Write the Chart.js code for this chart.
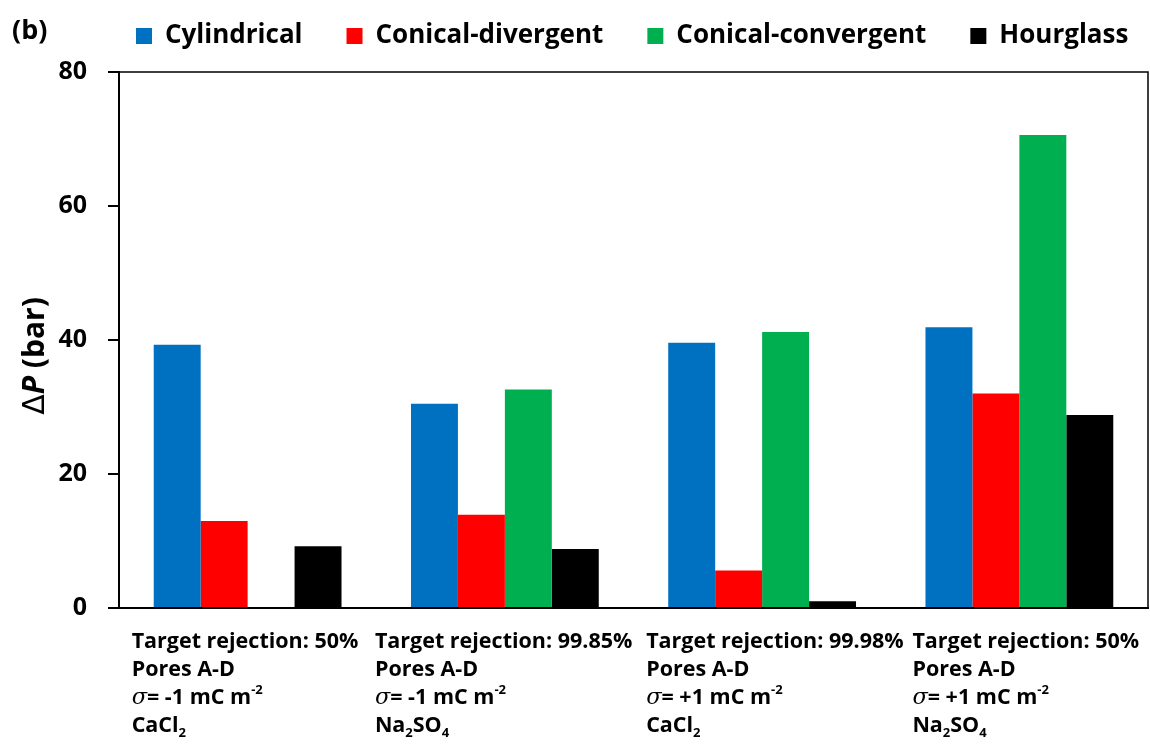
<!DOCTYPE html>
<html>
<head>
<meta charset="utf-8">
<script src="https://cdn.jsdelivr.net/npm/chart.js@4/dist/chart.umd.min.js"></script>
<style>
  html, body { margin: 0; padding: 0; background: #fff; }
  #wrap { width: 1150px; height: 749px; position: relative; }
</style>
</head>
<body>
<div id="wrap"><canvas id="c" width="1150" height="749"></canvas></div>
<script>
// ---- data ----
const categories = ["Group 1", "Group 2", "Group 3", "Group 4"];
const seriesNames = ["Cylindrical", "Conical-divergent", "Conical-convergent", "Hourglass"];
const cylindrical = [39.3, 30.5, 39.6, 41.9];
const conicalDivergent = [13.0, 13.9, 5.6, 32.0];
const conicalConvergent = [null, 32.6, 41.2, 70.6];
const hourglass = [9.2, 8.8, 1.0, 28.8];
const yTicks = [0, 20, 40, 60, 80];
// x tick labels (multi-line; _{..} subscript, ^{..} superscript)
const xLabelLines = [
  ["Target rejection: 50%", "Pores A-D", "σ= -1 mC m^{-2}", "CaCl_{2}"],
  ["Target rejection: 99.85%", "Pores A-D", "σ= -1 mC m^{-2}", "Na_{2}SO_{4}"],
  ["Target rejection: 99.98%", "Pores A-D", "σ= +1 mC m^{-2}", "CaCl_{2}"],
  ["Target rejection: 50%", "Pores A-D", "σ= +1 mC m^{-2}", "Na_{2}SO_{4}"]
];
const panelLabel = "(b)";

// ---- styles ----
const colors = ["#0070C0", "#FF0000", "#00B050", "#000000"];
const FONT = "'Open Sans', Lato, sans-serif";
const LEGEND_PAD = 44;
// horizontal placement of each label block's left edge relative to its category centre (px)
const xLabelNudge = [-116, -130, -116, -107];

function parseRich(str) {
  const segs = [];
  let i = 0, buf = "";
  while (i < str.length) {
    if ((str[i] === "_" || str[i] === "^") && str[i + 1] === "{") {
      if (buf) { segs.push({ t: buf, k: "n" }); buf = ""; }
      const end = str.indexOf("}", i);
      segs.push({ t: str.slice(i + 2, end), k: str[i] === "_" ? "sub" : "sup" });
      i = end + 1;
    } else if (str[i] === "σ") {
      if (buf) { segs.push({ t: buf, k: "n" }); buf = ""; }
      segs.push({ t: "σ", k: "it" });
      i++;
    } else { buf += str[i]; i++; }
  }
  if (buf) segs.push({ t: buf, k: "n" });
  return segs;
}

function drawRich(ctx, str, x, y, size) {
  const segs = parseRich(str);
  let cx = x;
  for (const s of segs) {
    let f, dy = 0;
    if (s.k === "n") f = "bold " + size + "px " + FONT;
    else if (s.k === "it") f = "italic " + (size + 1) + "px 'DejaVu Serif', serif";
    else { f = "bold " + Math.round(size * 0.62) + "px " + FONT; dy = s.k === "sub" ? size * 0.32 : -size * 0.36; }
    ctx.font = f;
    ctx.fillText(s.t, cx, y + dy);
    cx += ctx.measureText(s.t).width;
  }
}

const decorPlugin = {
  id: "decor",
  afterLayout(chart) {
    const lg = chart.legend;
    if (lg) {
      const w = lg.right - lg.left, h = lg.bottom - lg.top;
      lg.left = 136 - LEGEND_PAD; lg.right = lg.left + w;
      lg.top = 36 - 13 - LEGEND_PAD; lg.bottom = lg.top + h;
    }
  },
  afterDraw(chart) {
    const ctx = chart.ctx;
    const a = chart.chartArea;
    const xs = chart.scales.x;
    ctx.save();
    // top & right frame
    ctx.strokeStyle = "#000";
    ctx.lineWidth = 1.5;
    ctx.beginPath();
    ctx.moveTo(a.left, a.top);
    ctx.lineTo(a.right, a.top);
    ctx.lineTo(a.right, a.bottom);
    ctx.stroke();
    // x labels
    ctx.fillStyle = "#000";
    ctx.textBaseline = "middle";
    ctx.textAlign = "left";
    xLabelLines.forEach((lines, i) => {
      const x0 = xs.getPixelForValue(i) + xLabelNudge[i];
      lines.forEach((ln, j) => drawRich(ctx, ln, x0, a.bottom + 34 + j * 28, 21.5));
    });
    // panel label
    ctx.font = "bold 27px " + FONT;
    ctx.fillText(panelLabel, 12, 31);
    // y title
    ctx.textBaseline = "alphabetic";
    ctx.translate(44, (a.top + a.bottom) / 2 + 16);
    ctx.rotate(-Math.PI / 2);
    ctx.textAlign = "left";
    const parts = [
      { t: "Δ", f: "30px 'DejaVu Sans', sans-serif" },
      { t: "P", f: "italic bold 30px " + FONT },
      { t: " (bar)", f: "bold 30px " + FONT }
    ];
    let w = 0;
    parts.forEach(p => { ctx.font = p.f; w += ctx.measureText(p.t).width; });
    let cx = -w / 2;
    parts.forEach(p => { ctx.font = p.f; ctx.fillText(p.t, cx, 0); cx += ctx.measureText(p.t).width; });
    ctx.restore();
  }
};

const seriesData = [cylindrical, conicalDivergent, conicalConvergent, hourglass];

new Chart(document.getElementById("c"), {
  type: "bar",
  data: {
    labels: categories,
    datasets: seriesNames.map((n, i) => ({
      label: n,
      data: seriesData[i],
      backgroundColor: colors[i],
      borderWidth: 0,
      categoryPercentage: 0.73,
      barPercentage: 1.0
    }))
  },
  options: {
    responsive: false,
    animation: false,
    layout: { padding: { left: 0, right: 2, top: -8, bottom: 133 } },
    plugins: {
      legend: {
        position: "top",
        align: "start",
        labels: {
          color: "#000",
          font: { family: FONT, size: 26, weight: "bold" },
          boxWidth: 16,
          boxHeight: 16,
          padding: LEGEND_PAD
        }
      },
      tooltip: { enabled: false },
      title: { display: false }
    },
    scales: {
      x: {
        grid: { display: false },
        ticks: { display: false },
        border: { display: true, color: "#000", width: 2 }
      },
      y: {
        min: 0,
        max: 80,
        afterBuildTicks: (s) => { s.ticks = yTicks.map(v => ({ value: v })); },
        afterFit: (s) => { s.width = 119; },
        ticks: {
          color: "#000",
          font: { family: FONT, size: 25, weight: "bold" },
          padding: 21
        },
        grid: { drawOnChartArea: false, drawTicks: true, tickLength: 11, color: "#000", lineWidth: 2 },
        border: { display: true, color: "#000", width: 2 }
      }
    }
  },
  plugins: [decorPlugin]
});
</script>
</body>
</html>
